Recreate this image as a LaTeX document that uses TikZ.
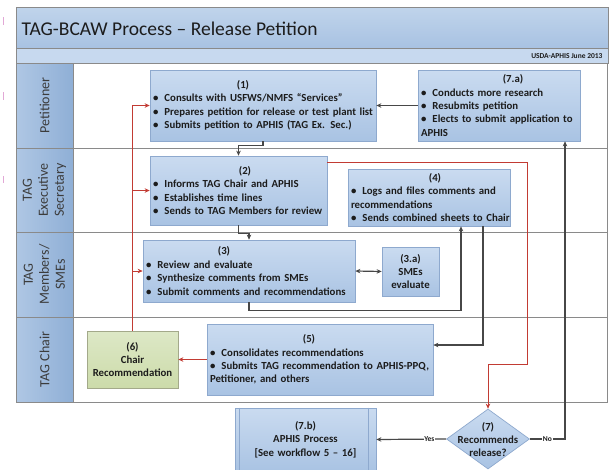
\documentclass[tikz,border=0pt]{standalone}
\usepackage{fontspec}
\setmainfont{Carlito}
\usetikzlibrary{shapes.geometric,arrows.meta,shadows}
\definecolor{boxtop}{HTML}{CADBF0}
\definecolor{boxbot}{HTML}{A9C3E3}
\definecolor{boxline}{HTML}{8EA9CE}
\definecolor{laneL}{HTML}{AFC7E4}
\definecolor{laneR}{HTML}{8FAFD6}
\definecolor{bannerT}{HTML}{C0D4EB}
\definecolor{bannerB}{HTML}{A8C2E2}
\definecolor{stripc}{HTML}{C7D9EF}
\definecolor{grline}{HTML}{8A8A8A}
\definecolor{arrowc}{HTML}{474747}
\definecolor{redc}{HTML}{C23B33}
\definecolor{greenT}{HTML}{DDE8C6}
\definecolor{greenB}{HTML}{CCDBAA}
\definecolor{greenline}{HTML}{A3A98A}
\definecolor{txt}{HTML}{1C1C1C}
\definecolor{lanetxt}{HTML}{3C3C3C}
\definecolor{tick}{HTML}{E2A8D6}
\newcommand\bit[1]{\par\hangindent=11.5pt\hangafter=1\noindent\makebox[11.5pt][l]{\textbullet}#1}
\newcommand\ttl[2]{\makebox[\linewidth][c]{\kern#1pt\relax #2}}
\tikzset{
  box/.style={draw=boxline, line width=0.7pt, top color=boxtop, bottom color=boxbot,
    inner xsep=3pt, inner ysep=0pt, align=left, text=txt,
    font=\fontsize{10.8}{13.4}\selectfont\bfseries,
    drop shadow={shadow xshift=1pt, shadow yshift=-1pt, opacity=0.25}},
  cbox/.style={box, align=center},
  gbox/.style={cbox, draw=greenline, top color=greenT, bottom color=greenB},
  dia/.style={diamond, draw=boxline, line width=0.7pt, top color=boxtop, bottom color=boxbot,
    inner sep=0pt, minimum width=83pt, minimum height=60pt},
  lanelbl/.style={rotate=90, align=center, text=lanetxt,
    font=\fontsize{14}{16}\selectfont},
  conn/.style={draw=arrowc, line width=1.2pt, -{Stealth[length=5pt,width=4.5pt]}},
  conn2/.style={draw=arrowc, line width=1.2pt, {Stealth[length=5pt,width=4.5pt]}-{Stealth[length=5pt,width=4.5pt]}},
  rconn/.style={draw=redc, line width=1pt, -{Stealth[length=5pt,width=4.5pt]}},
  lanesep/.style={draw=grline, line width=0.8pt},
  yn/.style={fill=white, inner sep=0.6pt, text=txt, font=\fontsize{7.5}{8}\selectfont\bfseries}
}
\begin{document}
\begin{tikzpicture}[x=1pt,y=-1pt]
\useasboundingbox (0,0) rectangle (611,469);
\clip (0,0) rectangle (611,469);
\fill[white] (0,0) rectangle (611,469);
% pink ticks
\draw[tick, line width=1pt] (3,17) -- (3,25) (3,92) -- (3,100) (3,176) -- (3,183);
% banner
\shade[top color=bannerT, bottom color=bannerB] (16,7) rectangle (608,48);
\draw[grline, line width=0.8pt] (16,7) rectangle (608,48);
\node[anchor=west, text=txt, font=\fontsize{19.5}{21}\selectfont] (title) at (18,28.5) {TAG-BCAW Process -- Release Petition};
\fill[stripc] (16,48) rectangle (608,63);
\draw[grline, line width=0.8pt] (16,48) rectangle (608,63);
\node[anchor=east, text=txt, font=\fontsize{7.5}{8}\selectfont\bfseries] (usda) at (606,56) {USDA-APHIS June 2013};
% lanes
\shade[left color=laneL, right color=laneR] (16,63) rectangle (73,402);
\draw[lanesep] (16,63) rectangle (607,402);
\draw[lanesep] (73,63) -- (73,402);
\draw[lanesep] (16,148) -- (607,148) (16,232) -- (607,232) (16,317) -- (607,317);
\node[lanelbl] (l1) at (44.5,105.5) {Petitioner};
\node[lanelbl] (l2) at (44.5,190) {TAG\\Executive\\Secretary};
\node[lanelbl] (l3) at (44.5,274.5) {TAG\\Members/\\SMEs};
\node[lanelbl] (l4) at (44.5,359.5) {TAG Chair};
% boxes
\node[box, minimum width=226pt, minimum height=71pt, text width=220pt] (n1) at (263,105.5)
  {\ttl{-40}{(1)}\bit{\mbox{Consults with USFWS/NMFS “Services”}}\bit{\mbox{Prepares petition for release or test plant list}}\bit{\mbox{Submits petition to APHIS (TAG Ex. Sec.)}}};
\node[box, minimum width=162pt, minimum height=71pt, text width=156pt] (n7a) at (499,105.5)
  {\ttl{28}{(7.a)}\bit{\mbox{Conducts more research}}\bit{\mbox{Resubmits petition}}\bit{\mbox{Elects to submit application to}\\\mbox{APHIS}}};
\node[box, minimum width=177pt, minimum height=69pt, text width=171pt] (n2) at (238.5,190.5)
  {\ttl{13}{(2)}\bit{\mbox{Informs TAG Chair and APHIS}}\bit{\mbox{Establishes time lines}}\bit{\mbox{Sends to TAG Members for review}}};
\node[box, minimum width=162pt, minimum height=57pt, text width=156pt] (n4) at (429,197.5)
  {\ttl{12}{(4)}\bit{\mbox{Logs and files comments and}\\\mbox{recommendations}}\bit{\mbox{Sends combined sheets to Chair}}};
\node[box, minimum width=212pt, minimum height=62pt, text width=206pt] (n3) at (249,271)
  {\ttl{-50}{(3)}\bit{\mbox{Review and evaluate}}\bit{\mbox{Synthesize comments from SMEs}}\bit{\mbox{Submit comments and recommendations}}};
\node[cbox, minimum width=57pt, minimum height=49pt, text width=51pt] (n3a) at (410.5,271.5)
  {(3.a)\\SMEs\\evaluate};
\node[box, minimum width=226pt, minimum height=71pt, text width=220pt] (n5) at (320,359.5)
  {\ttl{-22}{(5)}\bit{\mbox{Consolidates recommendations}}\bit{\mbox{Submits TAG recommendation to APHIS-PPQ,}\\\mbox{Petitioner, and others}}};
\node[gbox, minimum width=91pt, minimum height=57pt, text width=85pt] (n6) at (132.5,359.5)
  {(6)\\Chair\\Recommendation};
\node[cbox, minimum width=141pt, minimum height=63pt, text width=135pt] (n7b) at (305.5,439.5)
  {(7.b)\\APHIS Process\\{[}See workflow 5 -- 16{]}};
\draw[boxline, line width=0.7pt] ([xshift=5pt]n7b.north west) -- ([xshift=5pt]n7b.south west)
  ([xshift=-8pt]n7b.north east) -- ([xshift=-8pt]n7b.south east);
\node[dia] (d7) at (488,439) {};
\node[align=center, text=txt, font=\fontsize{10.8}{12.8}\selectfont\bfseries] (d7t) at (488,439.5) {(7)\\Recommends\\release?};
% connectors
\draw[conn] (n7a.west) -- (n1.east);
\draw[conn] (n1.south) -- ++(0,4) -| (n2.north);
\draw[conn] (n2.south) -- ++(0,8) -| (n3.north);
\draw[conn2] (n3.east) -- (n3a.west);
\draw[conn] (n3.south) -- ++(0,8) -| ([xshift=32pt]n4.south);
\draw[conn] ([xshift=54pt]n4.south) |- ([yshift=14.5pt]n5.east);
% red
\draw[rconn] (n5.west) -- (n6.east);
\draw[rconn] (n6.north) |- (n1.west);
\draw[rconn] (n6.north |- n2.west) -- (n2.west);
\draw[rconn] (n6.north |- n3.west) -- (n3.west);
\coordinate (r1) at (527,364);
\draw[rconn] ([yshift=28.5pt]n2.east) -| (r1) -| (d7.north);
% decision
\draw[conn] (d7.west) -- node[yn, pos=0.24] {Yes} (n7b.east);
\draw[conn] (d7.east) -| node[yn, pos=0.25] {No} ([xshift=66pt]n7a.south);
\end{tikzpicture}
\end{document}
